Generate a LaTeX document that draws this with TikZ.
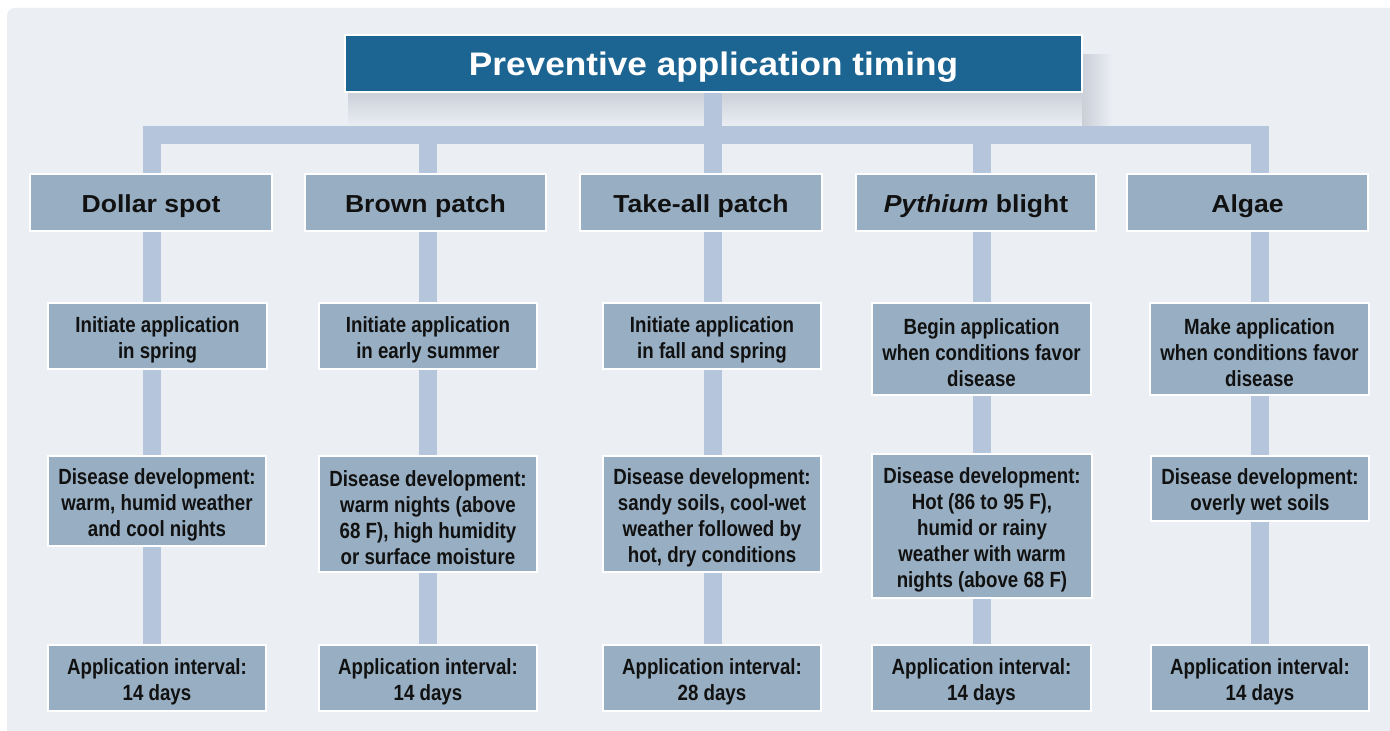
\documentclass[tikz,border=0pt]{standalone}
\usepackage{fontspec}
\setmainfont{Liberation Sans}
\newfontfamily\hfont[FakeStretch=1.08]{Liberation Sans}
\newfontfamily\cfont[FakeStretch=0.85]{Liberation Sans}
\newcommand\fs{\rule{0pt}{11.2pt}}
\definecolor{panelc}{HTML}{EBEEF3}
\definecolor{titlec}{HTML}{1C6592}
\definecolor{boxc}{HTML}{98AFC3}
\definecolor{barc}{HTML}{B5C6DC}
\definecolor{shadc}{HTML}{CACFD8}
\definecolor{textc}{HTML}{111111}
\pgfdeclarelayer{bgzero}
\pgfdeclarelayer{bgone}
\pgfsetlayers{bgzero,bgone,main}
\tikzset{
  titlebox/.style={draw=white, line width=1.2pt, fill=titlec, text=white, inner sep=0pt,
    minimum width=368.5pt, minimum height=28.5pt,
    execute at begin node={\rule{0pt}{15pt}},
    font=\hfont\bfseries\fontsize{16.3}{19}\selectfont},
  headbox/.style={draw=white, line width=1.2pt, fill=boxc, text=textc, inner sep=0pt,
    minimum height=28.5pt, align=center,
    execute at begin node={\rule{0pt}{13pt}},
    font=\hfont\bfseries\fontsize{12.3}{15}\selectfont},
  infobox/.style={draw=white, line width=1.2pt, fill=boxc, text=textc, inner sep=0pt,
    anchor=north, align=center,
    font=\cfont\bfseries\fontsize{11}{13}\selectfont},
  bar/.style={draw=barc, line width=9pt, line join=miter, line cap=butt}
}
\begin{document}
\begin{tikzpicture}[x=0.5pt, y=-0.5pt]
\useasboundingbox (0,0) rectangle (1390,731);
\begin{pgfonlayer}{bgzero}
  \begin{scope}
    \clip (0,0) rectangle (1390,731);
    \fill[white] (0,0) rectangle (1390,731);
    \fill[panelc, rounded corners=4pt] (7,8) rectangle (1410,760);
    \shade[top color=shadc, bottom color=panelc] (348,92) rectangle (1085,126);
    \shade[left color=shadc, right color=panelc] (1082,55) rectangle (1112,126);
  \end{scope}
\end{pgfonlayer}

% title
\node[titlebox] (title) at (713.5,63.5) {Preventive application timing};

% row 1 (heads)
\node[headbox, minimum width=121pt] (h1) at (151,202.5) {Dollar spot};
\node[headbox, minimum width=120.5pt] (h2) at (425.5,202.5) {Brown patch};
\node[headbox, minimum width=121pt] (h3) at (701,202.5) {Take-all patch};
\node[headbox, minimum width=120pt] (h4) at (976,202.5) {\textit{Pythium} blight};
\node[headbox, minimum width=120.5pt] (h5) at (1247.5,202.5) {Algae};

% row 2
\node[infobox, minimum width=109.5pt, minimum height=33pt] (s1) at (157.5,302) {\fs Initiate application\\in spring};
\node[infobox, minimum width=109pt, minimum height=33pt] (s2) at (428,302) {\fs Initiate application\\in early summer};
\node[infobox, minimum width=109pt, minimum height=33pt] (s3) at (712,302) {\fs Initiate application\\in fall and spring};
\node[infobox, minimum width=109.5pt, minimum height=46pt] (s4) at (981.5,302) {\fs Begin application\\when conditions favor\\disease};
\node[infobox, minimum width=109.5pt, minimum height=46pt] (s5) at (1259.5,302) {\fs Make application\\when conditions favor\\disease};

% row 3
\node[infobox, minimum width=109pt, minimum height=45pt] (d1) at (157,455) {\fs Disease development:\\warm, humid weather\\and cool nights};
\node[infobox, minimum width=109pt, minimum height=58pt] (d2) at (428,455) {\fs Disease development:\\warm nights (above\\68 F), high humidity\\or surface moisture};
\node[infobox, minimum width=109pt, minimum height=58pt] (d3) at (712,455) {\fs Disease development:\\sandy soils, cool-wet\\weather followed by\\hot, dry conditions};
\node[infobox, minimum width=110pt, minimum height=72pt] (d4) at (982,453) {\fs Disease development:\\Hot (86 to 95 F),\\humid or rainy\\weather with warm\\nights (above 68 F)};
\node[infobox, minimum width=109pt, minimum height=32.5pt] (d5) at (1260,455) {\fs Disease development:\\overly wet soils};

% row 4
\node[infobox, minimum width=109pt, minimum height=33pt] (a1) at (157,644) {\fs Application interval:\\14 days};
\node[infobox, minimum width=109pt, minimum height=33pt] (a2) at (428,644) {\fs Application interval:\\14 days};
\node[infobox, minimum width=109pt, minimum height=33pt] (a3) at (712,644) {\fs Application interval:\\28 days};
\node[infobox, minimum width=109.5pt, minimum height=33pt] (a4) at (981.5,644) {\fs Application interval:\\14 days};
\node[infobox, minimum width=109pt, minimum height=33pt] (a5) at (1260,644) {\fs Application interval:\\14 days};

% connectors
\coordinate (b1) at (152,135.5);
\coordinate (b2) at (428,135.5);
\coordinate (b3) at (712.5,135.5);
\coordinate (b4) at (982,135.5);
\coordinate (b5) at (1259.5,135.5);
\begin{pgfonlayer}{bgone}
  \draw[bar] (a1.north -| b1) -- (b1) -- (b5) -- (a5.north -| b5);
  \draw[bar] (b2) -- (a2.north -| b2);
  \draw[bar] (b3) -- (a3.north -| b3);
  \draw[bar] (b4) -- (a4.north -| b4);
  \draw[bar] (title.south -| b3) -- (b3);
\end{pgfonlayer}
\end{tikzpicture}
\end{document}
